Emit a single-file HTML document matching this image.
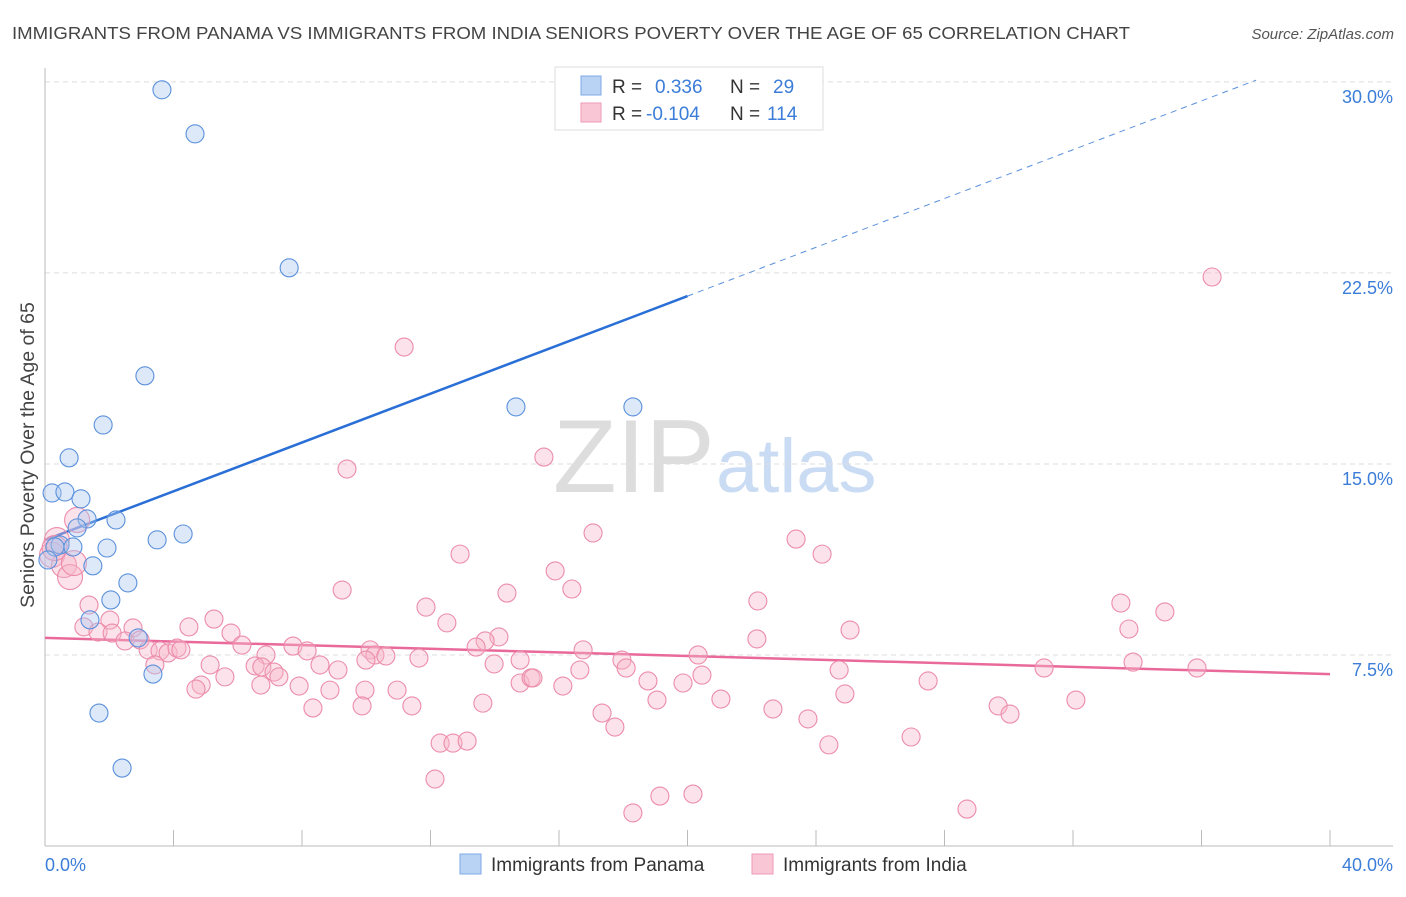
<!DOCTYPE html>
<html><head><meta charset="utf-8"><style>
body{margin:0;background:#fff;font-family:"Liberation Sans",sans-serif}
svg text{font-family:"Liberation Sans",sans-serif}
</style></head><body>
<svg id="chart" width="1406" height="892" xmlns="http://www.w3.org/2000/svg">
<text x="12" y="39" font-size="17.5" fill="#444" textLength="1118" lengthAdjust="spacingAndGlyphs">IMMIGRANTS FROM PANAMA VS IMMIGRANTS FROM INDIA SENIORS POVERTY OVER THE AGE OF 65 CORRELATION CHART</text>
<text x="1394" y="39" font-size="15" fill="#555" text-anchor="end" font-style="italic">Source: ZipAtlas.com</text>
<g>
<text x="553" y="492" font-size="104" fill="#ddd" font-family="Liberation Serif,serif">ZIP</text>
<text x="716" y="492" font-size="76" fill="#c9dcf3">atlas</text>
</g>
<g id="grid"></g><g id="axes"></g><g id="trend"></g><g id="pts"></g>
<text transform="translate(34,455) rotate(-90)" font-size="19.5" fill="#444" text-anchor="middle">Seniors Poverty Over the Age of 65</text>
<g>
<rect x="555" y="67" width="268" height="63" fill="#fff" stroke="#ddd"/>
<rect x="581" y="76" width="20" height="19" fill="#b9d3f5" stroke="#7ea8e6"/>
<rect x="581" y="103" width="20" height="19" fill="#f9c6d5" stroke="#ee9ab4"/>
<text x="612" y="93" font-size="19" fill="#333">R =</text><text x="655" y="93" font-size="19" fill="#3b7dd8">0.336</text>
<text x="730" y="93" font-size="19" fill="#333">N =</text><text x="773" y="93" font-size="19" fill="#3b7dd8">29</text>
<text x="612" y="120" font-size="19" fill="#333">R =</text><text x="646" y="120" font-size="19" fill="#3b7dd8">-0.104</text>
<text x="730" y="120" font-size="19" fill="#333">N =</text><text x="767" y="120" font-size="19" fill="#3b7dd8">114</text>
</g>
<g>
<rect x="460" y="854" width="21" height="20" fill="#b9d3f5" stroke="#7ea8e6"/>
<text x="491" y="871" font-size="19" fill="#333">Immigrants from Panama</text></g>
<g>
<rect x="752" y="854" width="21" height="20" fill="#f9c6d5" stroke="#ee9ab4"/>
<text x="783" y="871" font-size="19" fill="#333">Immigrants from India</text></g>
</svg>
<script>
const yTicks=[7.5,15,22.5,30];
const xTickLabels=["0.0%","40.0%"];
const blueX=[3.64,4.67,7.60,3.11,1.81,0.75,0.22,0.62,1.12,1.31,2.21,1.00,0.47,0.31,0.87,1.93,3.49,4.30,1.49,2.58,2.05,1.40,2.90,3.36,1.68,2.40,14.66,18.30,0.09];
const blueY=[29.69,27.96,22.70,18.46,16.53,15.24,13.86,13.90,13.63,12.84,12.80,12.49,11.82,11.74,11.74,11.70,12.02,12.25,11.00,10.33,9.66,8.88,8.17,6.75,5.22,3.06,17.24,17.24,11.23];
const pinkX=[36.33,11.18,9.40,15.53,17.06,23.38,24.19,12.92,15.88,16.40,9.25,14.38,11.86,22.19,33.49,34.86,5.26,12.51,4.48,33.74,25.06,5.79,14.13,13.70,22.16,13.42,16.75,2.74,2.02,1.37,1.00,0.37,0.22,0.59,0.78,1.21,1.65,2.09,2.49,2.96,3.21,3.58,3.83,4.11,4.23,6.13,6.88,7.72,8.16,10.12,10.27,10.61,11.64,9.99,6.54,6.75,5.14,3.42,7.13,8.56,9.12,14.79,13.98,17.96,20.33,18.09,16.65,24.72,31.10,33.87,35.86,5.60,7.28,4.86,4.70,6.72,7.91,8.87,9.96,10.96,14.79,15.13,15.19,16.12,18.77,19.86,20.45,27.49,24.90,19.05,21.04,32.09,8.34,9.87,11.42,13.63,17.34,22.66,23.75,29.67,30.04,17.74,26.96,12.30,12.70,13.14,24.40,12.14,19.14,20.17,18.30,28.70,0.90,0.30];
const pinkY=[22.34,19.59,14.80,15.27,12.29,12.05,11.46,11.46,10.80,10.09,10.05,9.93,9.38,9.62,9.54,9.19,8.91,8.76,8.60,8.52,8.48,8.36,8.21,8.05,8.13,7.81,7.70,8.56,8.87,9.46,12.80,12.01,11.43,11.03,10.56,8.60,8.40,8.36,8.05,8.09,7.70,7.66,7.58,7.77,7.70,7.89,7.50,7.85,7.66,7.70,7.50,7.46,7.38,7.30,7.07,7.03,7.11,7.11,6.83,7.11,6.91,7.30,7.15,7.30,7.50,6.99,6.91,6.91,6.99,7.22,6.99,6.64,6.64,6.32,6.16,6.32,6.28,6.12,6.12,6.12,6.40,6.60,6.60,6.28,6.48,6.40,6.71,6.48,5.97,5.73,5.77,5.73,5.42,5.50,5.50,5.61,5.22,5.38,4.99,5.50,5.18,4.67,4.28,4.04,4.04,4.12,3.97,2.63,1.96,2.04,1.30,1.45,11.11,11.7];
const blueTrend=[12.01,0.479];
const pinkTrend=[8.17,-0.0355];
const NS="http://www.w3.org/2000/svg";
const X=v=>45+v*32.125, Y=v=>846-v*25.47;
function mk(p,t,a){const e=document.createElementNS(NS,t);for(const k in a)e.setAttribute(k,a[k]);document.getElementById(p).appendChild(e);return e;}
yTicks.forEach(t=>{
 const l=mk('grid','line',{x1:45,x2:1393,y1:Y(t),y2:Y(t),stroke:'#ddd','stroke-dasharray':'5,4'});
 
 
 const tx=mk('grid','text',{x:1393,y:Y(t)+21,'font-size':18,fill:'#3b7dd8','text-anchor':'end'});
 tx.textContent=t.toFixed(1)+'%';
 
 
});
const ax=mk('axes','line',{x1:45,x2:45,y1:68,y2:846,stroke:'#bbb'});


const bx=mk('axes','line',{x1:45,x2:1393,y1:846,y2:846,stroke:'#bbb'});


for(let i=1;i<=10;i++){const t=mk('axes','line',{x1:X(i*4),x2:X(i*4),y1:830,y2:846,stroke:'#bbb'});
 
 }
[[0,'start',45],[40,'end',1393]].forEach((d,i)=>{const t=mk('axes','text',{x:d[2],y:871,'font-size':18,fill:'#3b7dd8','text-anchor':d[1]});t.textContent=xTickLabels[i];
 
 });
function pts(xs,ys,fill,stroke,name){xs.forEach((x,i)=>{const c=mk('pts','circle',{cx:X(x),cy:Y(ys[i]),r:(name==='india-point'&&x<1.3&&ys[i]>10.4)?12.5:9,fill:fill,'fill-opacity':0.4,stroke:stroke,'stroke-width':1.1});
 
 });}
pts(pinkX,pinkY,'#f7b6ca','#ec8cab','india-point');
pts(blueX,blueY,'#a9c8f0','#5b91dc','panama-point');
const tb=v=>blueTrend[0]+blueTrend[1]*v, tp=v=>pinkTrend[0]+pinkTrend[1]*v;
const b1=mk('trend','line',{x1:X(0),y1:Y(tb(0)),x2:X(20),y2:Y(tb(20)),stroke:'#2a6fd6','stroke-width':2.5});


const xe=37.7;
const b2=mk('trend','line',{x1:X(20),y1:Y(tb(20)),x2:X(xe),y2:Y(tb(xe)),stroke:'#5b91dc','stroke-width':1,'stroke-dasharray':'6,5'});


const p1=mk('trend','line',{x1:X(0),y1:Y(tp(0)),x2:X(40),y2:Y(tp(40)),stroke:'#e8699a','stroke-width':2.5});


</script>
</body></html>
